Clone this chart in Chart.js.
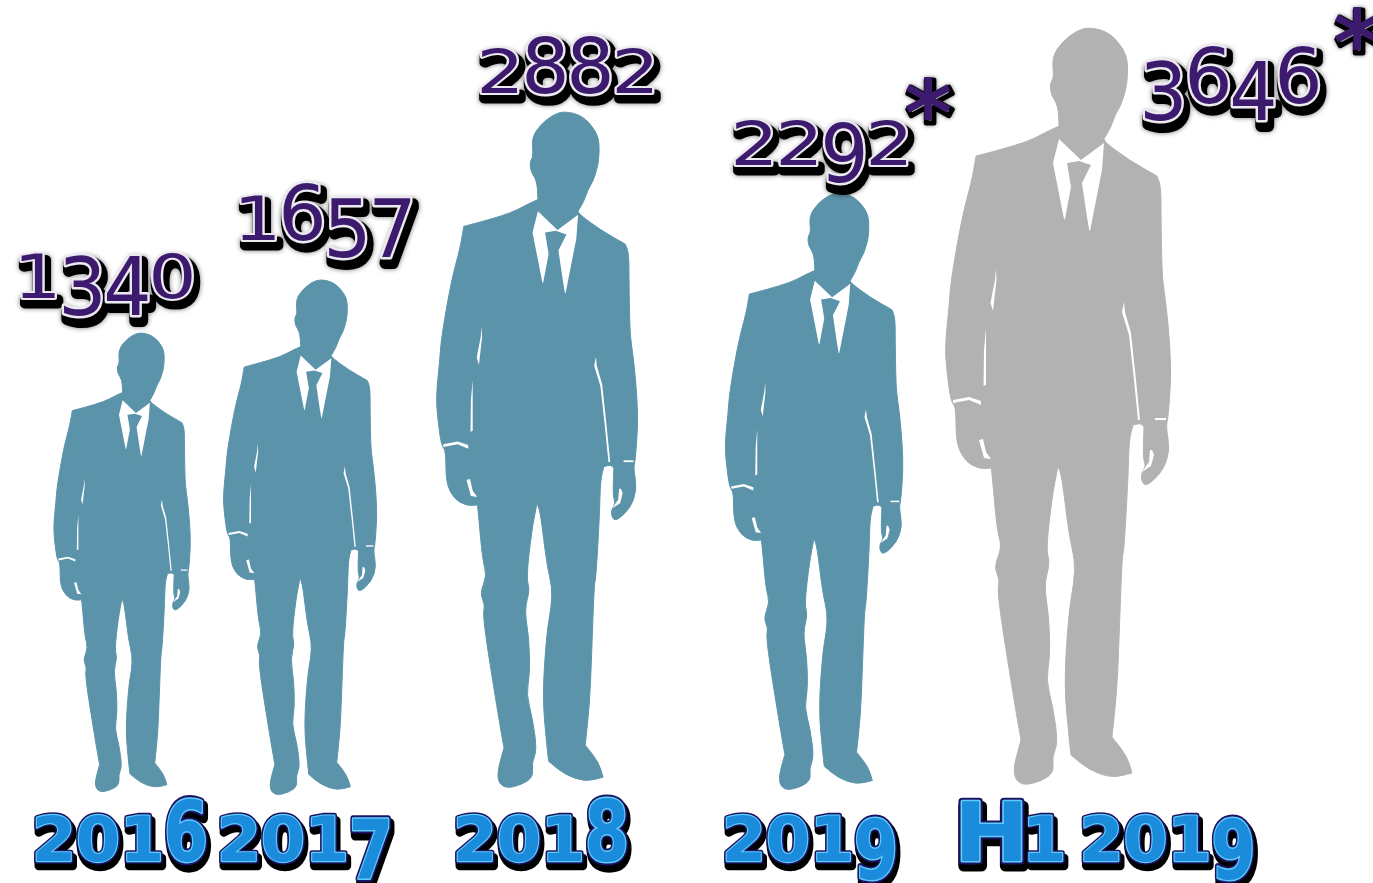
<!DOCTYPE html>
<html>
<head>
<meta charset="utf-8">
<style>html,body{margin:0;padding:0;background:#fff;overflow:hidden}canvas{display:block}</style>
<script src="https://cdn.jsdelivr.net/npm/chart.js@4/dist/chart.umd.min.js"></script>
</head>
<body>
<canvas id="c" width="1373" height="883"></canvas>
<script>
// ---- data ----
const categories = ['2016', '2017', '2018', '2019', 'H1 2019'];
const values = [1340, 1657, 2882, 2292, 3646];
const valueMarks = ['', '', '', '*', '*'];
const figureColors = ['#5b94aa', '#5b94aa', '#5b94aa', '#5b94aa', '#b2b2b2'];

// ---- layout nudges: the reference figures sit irregularly along the row ----
const figureDx = [0, -56, -53, -10, 0];
const figureDy = [2, 5, -2, 0, -5];
const figureStretch = [0.977, 1.009, 1.012, 1.008, 0.988];
const tickDx = [-2, -51, -49, -14, 50];
const labelDx = [-17, 25, 31, 8, 173];
const labelRise = [35, 40, 19, 28, -75];
const markOffset = [null, null, null, [106, -64], [126, -72]];

// ---- silhouette shape, in its own drawing units (repeated points keep corners crisp) ----
const BX = 947, BY = 28, BW = 224, BH = 757;
const outline = [[1090,27],[1110,32],[1125,49],[1129,63],[1128,83],[1126,92],[1122,105],[1116,115],[1112,127],[1105,139],[1105,139],[1107,143],[1130,160],[1158,176],[1158,176],[1162,187],[1162,220],[1163,273],[1165,290],[1168,313],[1171,347],[1172,380],[1169,418],[1167,427],[1171,450],[1164,471],[1147,487],[1142,480],[1143,472],[1147,466],[1144,458],[1145,427],[1145,427],[1142,423],[1134,425],[1134,425],[1130,440],[1129,480],[1125,550],[1123,557],[1120,640],[1118,690],[1113,737],[1113,737],[1128,756],[1133,773],[1133,773],[1113,778],[1090,770],[1072,755],[1072,755],[1070,737],[1065,683],[1070,610],[1075,583],[1076,560],[1070,535],[1063,477],[1059,466],[1059,466],[1053,497],[1047,550],[1051,563],[1045,585],[1050,617],[1051,657],[1047,680],[1054,707],[1059,743],[1053,757],[1055,772],[1043,781],[1022,786],[1013,773],[1022,740],[1022,740],[1015,700],[998,593],[1001,580],[995,567],[1003,547],[998,530],[993,473],[992,468],[992,468],[980,469],[966,461],[957,443],[957,407],[952,402],[948,373],[946,347],[950,307],[952,280],[963,217],[973,180],[977,156],[977,156],[1000,150],[1030,141],[1047,132],[1060,126],[1060,126],[1059,105],[1052,95],[1051,83],[1055,78],[1053,57],[1063,42],[1077,31]];
const shirt = [[1060,139],[1082,160],[1105,143],[1103,170],[1091,231],[1065,219],[1054,163]];
const tie = [[1068,163],[1080,161],[1092,165],[1083,183],[1088,217],[1091,235],[1065,224],[1072,187]];
const slivers = [
  [[997,268],[997.5,280],[994,311],[991.5,303],[993,295],[996,280]],
  [[987,328],[987,385],[984.5,386],[985,350]],
  [[1125,302],[1123,312],[1130,335],[1135,380],[1139,420],[1141,420],[1137,380],[1132,333],[1126,312]],
  [[980,440],[984,439],[987,452],[992,459],[985,458]],
  [[1153,450],[1155,455],[1152,466],[1143,472],[1150,462],[1151,450]],
  [[954,400],[970,397],[982,401],[982,405],[970,400],[954,403]],
  [[1156,418],[1167,418],[1167,420],[1156,420]]
];

function place(p, tx) { return [tx.x + (p[0] - BX) * tx.s, tx.y + (p[1] - BY) * tx.s]; }

function tracePoly(ctx, pts, tx) {
  ctx.beginPath();
  pts.forEach((p, i) => {
    const q = place(p, tx);
    i ? ctx.lineTo(q[0], q[1]) : ctx.moveTo(q[0], q[1]);
  });
  ctx.closePath();
}

function traceSmooth(ctx, pts, tx) {
  const q = pts.map(p => place(p, tx));
  const n = q.length;
  const mid = (a, b) => [(a[0] + b[0]) / 2, (a[1] + b[1]) / 2];
  ctx.beginPath();
  const start = mid(q[n - 1], q[0]);
  ctx.moveTo(start[0], start[1]);
  q.forEach((p, i) => {
    const m = mid(p, q[(i + 1) % n]);
    ctx.quadraticCurveTo(p[0], p[1], m[0], m[1]);
  });
  ctx.closePath();
}

function drawFigure(ctx, cx, top, bottom, color) {
  const s = (bottom - top) / BH;
  const tx = { x: cx - BW * s / 2, y: top, s };
  ctx.save();
  ctx.lineJoin = 'round';
  ctx.fillStyle = color; ctx.strokeStyle = color; ctx.lineWidth = 1;
  traceSmooth(ctx, outline, tx); ctx.fill(); ctx.stroke();
  ctx.fillStyle = '#fff';
  tracePoly(ctx, shirt, tx); ctx.fill();
  slivers.forEach(p => { tracePoly(ctx, p, tx); ctx.fill(); });
  ctx.fillStyle = color;
  tracePoly(ctx, tie, tx); ctx.fill();
  ctx.restore();
}

// ---- lettering: old-style figures built per glyph ----
const numberGlyphs = {
  '0': { sy: .76, dy: 0 }, '1': { sy: .76, dy: 0 }, '2': { sy: .76, dy: 0 },
  '3': { sy: 1, dy: 17 }, '4': { sy: 1, dy: 17 }, '5': { sy: 1, dy: 17 }, '7': { sy: 1, dy: 17 }, '9': { sy: 1, dy: 17 },
  '6': { sy: .96, dy: 0 }, '8': { sy: .96, dy: 0 }
};
const yearGlyphs = {
  '0': { sy: .75, dy: 0 }, '1': { sy: .75, dy: 0 }, '2': { sy: .75, dy: 0 },
  '7': { sy: 1, dy: 18 }, '9': { sy: 1, dy: 18 },
  '6': { sy: 1.03, dy: 0 }, '8': { sy: 1.03, dy: 0 },
  'H': { sy: 1, dy: 0, sx: 1.4 }, ' ': { sy: 1, dy: 0, sx: .3 }
};
const numberStyle = { font: '500 80px "DejaVu Sans"', adv: 45, sx: .95, glyphs: numberGlyphs,
  layers: [
    { stroke: '#000', w: 12, ox: 3, oy: 6, blur: 5 },
    { stroke: '#ece9f1', w: 5, ox: 0, oy: 0 },
    { fill: '#3c1a6e', ox: 0, oy: 0 }
  ] };
const yearStyle = { font: 'bold 82px "DejaVu Sans"', adv: 44, sx: .78, glyphs: yearGlyphs,
  layers: [
    { stroke: '#000', w: 11, ox: 2, oy: 5 },
    { stroke: '#1a1466', w: 7, ox: 0, oy: 0 },
    { stroke: '#62ccf8', w: 3, ox: 0, oy: 0 },
    { fill: '#1a8cdb', ox: 0, oy: 0 }
  ] };
const markStyle = { font: 'bold 92px "DejaVu Sans"', adv: 50, sx: 1, glyphs: {},
  layers: [
    { stroke: '#000', w: 5, ox: 2, oy: 3, blur: 4 },
    { fill: '#3c1a6e', ox: 0, oy: 0 }
  ] };

function drawLettering(ctx, text, cx, baseline, st) {
  ctx.save();
  ctx.font = st.font;
  ctx.textAlign = 'center';
  ctx.textBaseline = 'alphabetic';
  ctx.lineJoin = 'round';
  const chars = Array.from(text);
  const advs = chars.map(c => st.adv * ((st.glyphs[c] && st.glyphs[c].sx) || 1));
  const total = advs.reduce((a, b) => a + b, 0);
  st.layers.forEach(l => {
    let x = cx - total / 2;
    chars.forEach((c, i) => {
      const g = st.glyphs[c] || { sy: 1, dy: 0 };
      ctx.save();
      ctx.translate(x + advs[i] / 2 + l.ox, baseline + g.dy + l.oy);
      ctx.scale(st.sx * (g.sx || 1), g.sy);
      if (l.blur) { ctx.shadowColor = 'rgba(0,0,0,.55)'; ctx.shadowBlur = l.blur; }
      if (l.stroke) { ctx.strokeStyle = l.stroke; ctx.lineWidth = l.w; ctx.strokeText(c, 0, 0); }
      else { ctx.fillStyle = l.fill; ctx.fillText(c, 0, 0); }
      ctx.restore();
      x += advs[i];
    });
  });
  ctx.restore();
}

const pictogram = {
  id: 'pictogram',
  afterDatasetsDraw(chart) {
    const ctx = chart.ctx, bars = chart.getDatasetMeta(0).data, xs = chart.scales.x;
    bars.forEach((bar, i) => {
      const h = (bar.base - bar.y) * figureStretch[i];
      const bottom = bar.base + figureDy[i];
      drawFigure(ctx, bar.x + figureDx[i], bottom - h, bottom, figureColors[i]);
    });
    bars.forEach((bar, i) => {
      const h = (bar.base - bar.y) * figureStretch[i];
      const top = bar.base + figureDy[i] - h;
      const cx = bar.x + figureDx[i] + labelDx[i], baseline = top - labelRise[i];
      drawLettering(ctx, String(values[i]), cx, baseline, numberStyle);
      if (valueMarks[i]) {
        const m = markOffset[i];
        drawLettering(ctx, valueMarks[i], cx + m[0], baseline + m[1] + 45, markStyle);
      }
    });
    categories.forEach((label, i) => {
      drawLettering(ctx, label, xs.getPixelForTick(i) + tickDx[i], 861, yearStyle);
    });
  }
};

new Chart(document.getElementById('c'), {
  type: 'bar',
  data: {
    labels: categories,
    datasets: [{ data: values, base: -2316, backgroundColor: 'rgba(0,0,0,0)', borderWidth: 0 }]
  },
  options: {
    responsive: false,
    animation: false,
    layout: { padding: { left: 5, right: 198, top: 0, bottom: 93 } },
    plugins: { legend: { display: false }, tooltip: { enabled: false } },
    scales: {
      x: { display: false },
      y: { display: false, min: -2316, max: 3832 }
    }
  },
  plugins: [pictogram]
});
</script>
</body>
</html>
